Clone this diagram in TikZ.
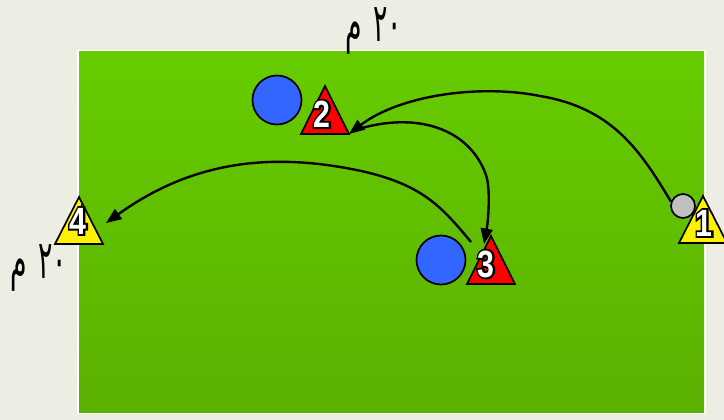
\documentclass[tikz,border=0pt]{standalone}
\usepackage{fontspec}
\usepackage{xcolor}
\usetikzlibrary{arrows.meta}
\newfontfamily\arabicfont[Script=Arabic]{DejaVu Sans}
\newfontfamily\numfont[FakeStretch=0.8]{Liberation Sans}
\newfontfamily\numrim[FakeStretch=0.8,FakeBold=10]{Liberation Sans}
\TeXXeTstate=1
\definecolor{sand}{HTML}{EEEDE3}
\definecolor{pitchtop}{HTML}{66CC00}
\definecolor{pitchbot}{HTML}{5BB000}
\definecolor{ballblue}{HTML}{3366FF}
\definecolor{ballgray}{HTML}{C0C0C0}
\tikzset{
  cone/.style={draw=black,line width=1.2pt,line join=miter},
  ball/.style={circle,draw=black,line width=1.2pt,inner sep=0pt},
  num/.style={font=\numfont\bfseries\fontsize{27}{27}\selectfont,inner sep=0pt},
  pass/.style={line width=1.7pt,-{Triangle[length=11pt,width=8.5pt]}},
  len/.style={font=\arabicfont\fontsize{38}{38}\selectfont,inner sep=0pt}
}
% outlined number in a cone
\newcommand{\conetext}[1]{%
  \rlap{\textcolor{black}{\numrim\bfseries#1}}\textcolor{white}{#1}}
\newcommand{\lentext}{\scalebox{0.5}[1]{\beginR\beginL ٢٠\endL{}\hspace{16pt}م\endR}}

\begin{document}
\begin{tikzpicture}[x=0.025cm,y=-0.025cm]
\useasboundingbox (0,0) rectangle (724,420);
\fill[sand] (0,0) rectangle (724,420);
%pitch
\fill[white] (77,50) rectangle (706,414);
\shade[top color=pitchtop,middle color=pitchtop,bottom color=pitchbot] (79,52) rectangle (704,412);
%lengths
\node[len] (lentop) at (374,31) {\lentext};
\node[len] (lenleft) at (39,268) {\lentext};
%cones
\filldraw[cone,fill=yellow] (703,196) coordinate (t1) -- (679,243) coordinate (t1l) -- (727,243) coordinate (t1r) -- cycle;
\filldraw[cone,fill=red] (325,86) coordinate (t2) -- (301,134) coordinate (t2l) -- (349,134) coordinate (t2r) -- cycle;
\filldraw[cone,fill=red] (491,236) coordinate (t3) -- (467,284) coordinate (t3l) -- (515,284) coordinate (t3r) -- cycle;
\filldraw[cone,fill=yellow] (79,197) coordinate (t4) -- (55,244) coordinate (t4l) -- (103,244) coordinate (t4r) -- cycle;
\node[num] (n1) at (704,223) {\conetext{1}};
\node[num] (n2) at (322,114) {\conetext{2}};
\node[num] (n3) at (486,264) {\conetext{3}};
\node[num] (n4) at (78,221) {\conetext{4}};
%balls
\node[ball,fill=ballblue,minimum size=49*0.025cm] (b2) at (277,100) {};
\node[ball,fill=ballblue,minimum size=49*0.025cm] (b3) at (441,260) {};
\node[ball,fill=ballgray,minimum size=24*0.025cm] (b1) at (683,206) {};
%passes
\coordinate (s2) at (362,128);
\coordinate (s3) at (471,242);
\coordinate (e3) at (484,244);
\coordinate (e4) at (106,223);
\draw[pass] (b1.160) .. controls (640,150) and (612,108) .. (540,96)
  .. controls (480,84) and (400,95) .. (t2r);
\draw[pass] (s2) .. controls (420,112) and (470,130) .. (486,175)
  .. controls (491,190) and (488,222) .. (e3);
\draw[pass] (s3) .. controls (440,205) and (420,180) .. (340,167)
  .. controls (250,152) and (180,170) .. (e4);
\end{tikzpicture}
\end{document}
